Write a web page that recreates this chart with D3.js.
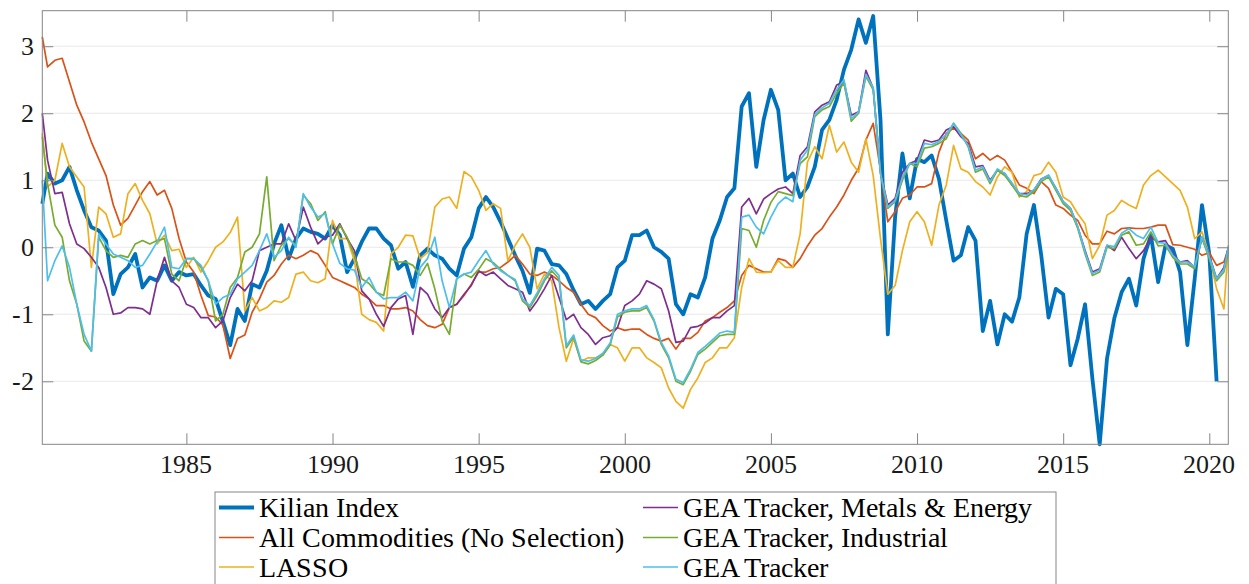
<!DOCTYPE html>
<html>
<head>
<meta charset="utf-8">
<script src="https://cdn.jsdelivr.net/npm/d3@7"></script>
<style>
  @font-face {
    font-family: ChartSerif;
    src: local("Liberation Serif"), local("LiberationSerif-Regular"), local("LiberationSerif"), local("Times New Roman"), local("DejaVu Serif");
  }
</style>
</head>
<body style="margin:0">
<script>
// quarterly readings, first value = 1980Q1, last value sits on the right edge
const startYear = 1980;
const xMin = 1980.07, xMax = 2020.65;
const yMin = -2.94, yMax = 3.53;

const kilian = [
  0.65, 1.1, 0.95, 1.0, 1.2, 0.85, 0.55, 0.3, 0.25, 0.1, -0.7, -0.4,
  -0.3, -0.1, -0.6, -0.45, -0.5, -0.27, -0.5, -0.37, -0.42, -0.4, -0.57, -0.72,
  -0.77, -1.11, -1.46, -0.92, -1.1, -0.55, -0.6, -0.35, 0.05,
  0.33, -0.17, 0.13, 0.28, 0.23, 0.2, 0.13, 0.33, 0.18, -0.37, -0.17,
  0.08, 0.28, 0.28, 0.13, 0.03, -0.32, -0.22, -0.59, -0.12, -0.02, -0.12, -0.17,
  -0.32, -0.42, -0.02, 0.15, 0.58, 0.75, 0.6, 0.38, 0.13, -0.12,
  -0.35, -0.68, -0.02, -0.05, -0.25, -0.27, -0.4, -0.64, -0.85, -0.8,
  -0.92, -0.8, -0.7, -0.3, -0.2, 0.18, 0.18, 0.25, 0.0, -0.07, -0.17, -0.85,
  -1.0, -0.7, -0.75, -0.45, 0.13, 0.4, 0.75, 0.88, 2.1, 2.3, 1.2,
  1.9, 2.35, 2.05, 1.0, 1.1, 0.75, 0.9, 1.2, 1.75, 1.9, 2.2, 2.65, 2.95,
  3.4, 3.05, 3.45, 1.9, -1.3, 0.45, 1.4, 0.73, 1.32, 1.27, 1.37, 1.02,
  0.4, -0.2, -0.12, 0.3, 0.1, -1.25, -0.8,
  -1.45, -1.0, -1.11, -0.75, 0.2, 0.63, -0.12, -1.05, -0.62,
  -0.7, -1.76, -1.36, -0.85, -1.96, -2.94, -1.66, -1.06, -0.67, -0.47, -0.87, -0.17,
  0.18, -0.52, 0.03, -0.02, -0.37, -1.46, -0.47, 0.63, -0.1, -2.0
];

const allCommodities = [
  3.14, 2.69, 2.79, 2.82, 2.47, 2.12, 1.87, 1.57, 1.32, 1.07, 0.63, 0.33,
  0.43, 0.63, 0.83, 0.98, 0.78, 0.85, 0.58, 0.13, -0.22, -0.37, -0.72, -1.02,
  -1.04, -1.16, -1.66, -1.36, -1.31, -0.97, -0.77, -0.52, -0.42,
  -0.25, -0.12, -0.17, -0.12, -0.05, -0.1, -0.27, -0.45, -0.5, -0.55, -0.6,
  -0.7, -0.77, -0.87, -0.87, -0.92, -0.92, -0.9, -0.95, -1.08, -1.17, -1.2, -1.15,
  -0.9, -0.85, -0.72, -0.55, -0.37, -0.37, -0.32, -0.3, -0.22, -0.12,
  -0.25, -0.4, -0.42, -0.37, -0.42, -0.5, -0.6, -0.67, -0.85, -1.0,
  -1.05, -1.17, -1.25, -1.2, -1.24, -1.22, -1.22, -1.3, -1.36, -1.4, -1.36, -1.52,
  -1.36, -1.36, -1.27, -1.1, -1.05, -0.97, -0.9, -0.8, -0.42, -0.27, -0.32,
  -0.37, -0.37, -0.17, -0.2, -0.3, -0.17, 0.02, 0.18, 0.28, 0.45, 0.6, 0.78, 1.0,
  1.18, 1.6, 1.85, 1.15, 0.38, 0.53, 0.73, 0.78, 0.9, 0.9, 0.95, 1.42,
  1.7, 1.78, 1.7, 1.6, 1.32, 1.4, 1.3,
  1.37, 1.3, 1.12, 0.93, 0.88, 0.8, 0.98, 0.88, 0.63,
  0.58, 0.48, 0.4, 0.18, 0.05, 0.05, 0.24, 0.2, 0.28, 0.29, 0.28, 0.28,
  0.3, 0.33, 0.33, 0.04, 0.03, 0.0, -0.03, -0.12, -0.08, -0.27, -0.22, -0.02
];

const lasso = [
  1.7, 0.9, 1.0, 1.55, 1.2, 1.05, 0.9, -0.3, 0.6, 0.5, 0.15, 0.2,
  0.8, 0.95, 0.7, 0.5, 0.05, 0.18, -0.05, -0.03, -0.3, -0.15, -0.37, -0.2,
  0.0, 0.08, 0.22, 0.45, -0.95, -0.75, -0.95, -0.9, -0.8,
  -0.82, -0.75, -0.4, -0.37, -0.5, -0.53, -0.47, 0.4, 0.13, 0.13, -0.2,
  -1.0, -1.08, -1.12, -1.25, -0.1, 0.0, 0.18, 0.17, -0.17, -0.08, 0.6, 0.72,
  0.75, 0.58, 1.13, 1.05, 0.85, 0.55, 0.65, 0.58, -0.2, 0.03,
  0.2, 0.0, -0.62, -0.4, -0.5, -1.2, -1.7, -1.36, -1.7, -1.65,
  -1.65, -1.6, -1.45, -1.5, -1.7, -1.5, -1.5, -1.65, -1.72, -1.8, -2.1, -2.3,
  -2.4, -2.12, -1.95, -1.72, -1.65, -1.5, -1.5, -1.35, -0.6, -0.17, -0.37,
  -0.38, -0.37, -0.2, -0.3, -0.3, 0.2, 1.27, 1.5, 1.32, 1.82, 1.42, 1.57, 1.27,
  1.12, 1.62, 1.07, 0.13, -0.7, -0.57, -0.05, 0.38, 0.53, 0.38, 0.03, 0.63,
  0.93, 1.52, 1.17, 1.12, 0.98, 0.9, 0.78,
  1.05, 1.2, 1.12, 0.75, 0.83, 1.07, 1.1, 1.27, 1.12,
  0.75, 0.68, 0.5, 0.35, -0.17, 0.03, 0.48, 0.55, 0.7, 0.63, 0.58, 0.93,
  1.07, 1.15, 1.05, 0.95, 0.85, 0.6, 0.13, 0.23, -0.12, -0.62, -0.92, 0.03
];

const metalsEnergy = [
  2.0, 1.3, 0.8, 0.82, 0.35, 0.05, -0.02, -0.15, -0.3, -0.6, -1.0, -0.98,
  -0.9, -0.9, -0.92, -1.0, -0.5, -0.15, -0.5, -0.6, -0.85, -0.9, -1.05, -1.05,
  -1.2, -1.1, -0.75, -0.55, -0.65, -0.5, -0.05, 0.0, 0.05,
  0.05, 0.35, 0.1, 0.6, 0.3, 0.05, 0.15, 0.18, 0.35, 0.13, -0.05,
  -0.65, -0.77, -1.0, -1.18, -0.9, -0.77, -0.72, -1.3, -0.6, -0.7, -0.92, -1.05,
  -0.9, -0.85, -0.7, -0.57, -0.35, -0.42, -0.37, -0.47, -0.57, -0.62,
  -0.67, -0.95, -0.8, -0.62, -0.42, -0.75, -1.08, -1.0, -1.2, -1.3,
  -1.45, -1.35, -1.32, -1.2, -0.87, -0.8, -0.7, -0.5, -0.55, -0.62, -0.95, -1.42,
  -1.4, -1.2, -1.18, -1.13, -1.05, -1.05, -0.95, -0.87, 0.6, 0.73, 0.5,
  0.72, 0.8, 0.87, 0.9, 0.8, 1.37, 1.5, 2.02, 2.12, 2.17, 2.42, 2.47, 1.97,
  2.02, 2.64, 2.37, 1.12, 0.63, 0.73, 1.12, 1.25, 1.3, 1.6, 1.57, 1.6,
  1.75, 1.8, 1.65, 1.55, 1.2, 1.22, 1.0,
  1.15, 1.1, 0.93, 0.8, 0.8, 0.85, 1.02, 1.07, 0.88,
  0.68, 0.58, 0.3, -0.05, -0.37, -0.32, 0.03, -0.05, 0.15, -0.02, -0.17, -0.05,
  0.15, 0.08, 0.1, -0.1, -0.22, -0.2, -0.3, 0.15, -0.12, -0.47, -0.3, 0.0
];

const industrial = [
  1.65, 0.95, 0.33, 0.15, -0.5, -0.85, -1.4, -1.55, 0.15, -0.05, -0.15, -0.12,
  -0.15, 0.05, 0.1, 0.05, 0.1, 0.13, -0.4, -0.5, -0.17, -0.17, -0.3, -0.5,
  -1.1, -1.0, -0.6, -0.45, -0.07, 0.0, 0.2, 1.05, -0.2,
  0.03, 0.13, 0.03, 0.78, 0.65, 0.4, 0.53, 0.05, 0.33, 0.15, -0.12,
  -0.47, -0.54, -0.67, -0.72, -0.17, -0.22, -0.22, -0.27, -0.42, -0.24, -0.62, -1.1,
  -1.3, -0.47, -0.4, -0.45, -0.33, -0.17, -0.23, -0.33, -0.42, -0.5,
  -0.8, -0.9, -0.72, -0.5, -0.35, -0.47, -1.5, -1.34, -1.71, -1.74,
  -1.69, -1.61, -1.46, -1.04, -0.97, -0.95, -0.95, -0.9, -1.1, -1.45, -1.65, -2.0,
  -2.05, -1.85, -1.6, -1.52, -1.42, -1.32, -1.3, -1.3, 0.28, 0.25, 0.0,
  0.4, 0.67, 0.83, 0.8, 0.77, 1.25, 1.35, 1.95, 2.05, 2.1, 2.3, 2.45, 1.88,
  2.0, 2.55, 2.35, 1.1, 0.58, 0.68, 1.0, 1.25, 1.2, 1.48, 1.5, 1.55,
  1.62, 1.85, 1.7, 1.5, 1.12, 1.17, 0.95,
  1.15, 1.07, 0.93, 0.77, 0.75, 0.83, 0.98, 1.05, 0.85,
  0.65, 0.55, 0.28, -0.1, -0.42, -0.37, 0.0, -0.02, 0.18, 0.23, 0.03, 0.05,
  0.23, 0.02, 0.03, -0.15, -0.25, -0.25, -0.32, 0.13, -0.17, -0.5, -0.37, -0.07
];

const geaTracker = [
  1.0, -0.5, -0.2, 0.02, -0.3, -0.85, -1.3, -1.55, 0.2, 0.05, -0.1, -0.15,
  -0.2, -0.3, -0.27, -0.1, 0.08, 0.3, -0.3, -0.32, -0.17, -0.17, -0.27, -0.5,
  -0.85, -0.75, -0.7, -0.47, -0.37, -0.27, -0.05, 0.2, -0.15,
  -0.05, 0.15, 0.0, 0.8, 0.6, 0.45, 0.5, 0.05, -0.24, -0.32, -0.34,
  -0.6, -0.45, -0.67, -0.77, -0.75, -0.75, -0.67, -0.8, -0.3, -0.17, 0.15, -0.5,
  -0.9, -0.47, -0.4, -0.37, -0.2, -0.05, -0.25, -0.35, -0.42, -0.48,
  -0.77, -0.87, -0.68, -0.47, -0.3, -0.42, -1.47, -1.31, -1.68, -1.7,
  -1.66, -1.58, -1.43, -1.0, -0.95, -0.92, -0.92, -0.87, -1.08, -1.42, -1.62, -1.97,
  -2.02, -1.82, -1.57, -1.48, -1.38, -1.28, -1.25, -1.27, 0.45, 0.48, 0.3,
  0.2, 0.45, 0.65, 0.75, 0.68, 1.3, 1.45, 1.98, 2.08, 2.15, 2.35, 2.5, 1.92,
  2.02, 2.58, 2.38, 1.1, 0.6, 0.7, 1.05, 1.25, 1.25, 1.55, 1.53, 1.58,
  1.68, 1.85, 1.68, 1.52, 1.15, 1.2, 0.98,
  1.17, 1.1, 0.96, 0.8, 0.78, 0.86, 1.01, 1.08, 0.88,
  0.68, 0.58, 0.31, -0.07, -0.39, -0.34, 0.03, 0.01, 0.21, 0.28, 0.18, 0.13,
  0.3, 0.07, 0.06, -0.12, -0.22, -0.22, -0.29, 0.16, -0.14, -0.47, -0.33, 0.0
];

const xTicks = [1985, 1990, 1995, 2000, 2005, 2010, 2015, 2020];
const yTicks = [-2, -1, 0, 1, 2, 3];

// plotting order (MATLAB order), legend filled column by column
const series = [
  { name: "Kilian Index", values: kilian, color: "#0072BD", width: 3.8 },
  { name: "All Commodities (No Selection)", values: allCommodities, color: "#D95319", width: 1.7 },
  { name: "LASSO", values: lasso, color: "#EDB120", width: 1.7 },
  { name: "GEA Tracker, Metals & Energy", values: metalsEnergy, color: "#7E2F8E", width: 1.7 },
  { name: "GEA Tracker, Industrial", values: industrial, color: "#77AC30", width: 1.7 },
  { name: "GEA Tracker", values: geaTracker, color: "#4DBEEE", width: 1.7 }
];

const width = 1249, height = 584;
const box = { left: 42.3, right: 1228.3, top: 10.7, bottom: 444.3 };
const axisColor = "#858585";
const serifFont = "ChartSerif";

const x = d3.scaleLinear().domain([xMin, xMax]).range([box.left, box.right]);
const y = d3.scaleLinear().domain([yMin, yMax]).range([box.bottom, box.top]);

const svg = d3.select("body").append("svg")
  .attr("width", width)
  .attr("height", height);

// horizontal grid
svg.append("g")
  .selectAll("line")
  .data(yTicks)
  .join("line")
  .attr("x1", box.left)
  .attr("x2", box.right)
  .attr("y1", d => y(d))
  .attr("y2", d => y(d))
  .attr("stroke", "#e9e9e9")
  .attr("stroke-width", 1);

const dateAt = i => Math.max(xMin, Math.min(startYear + i / 4, xMax));

const line = d3.line()
  .x((d, i) => x(dateAt(i)))
  .y(d => Math.max(box.top, Math.min(box.bottom, y(d))));

svg.append("g")
  .selectAll("path")
  .data(series)
  .join("path")
  .attr("fill", "none")
  .attr("stroke", d => d.color)
  .attr("stroke-width", d => d.width)
  .attr("stroke-linejoin", "round")
  .attr("d", d => line(d.values));

// tick marks pointing inwards on all four sides (labels drawn separately)
const tickLen = 11;
const styleAxis = g => {
  g.select(".domain").remove();
  g.selectAll(".tick line").attr("stroke", axisColor);
  g.selectAll(".tick text").remove();
};
svg.append("g").attr("transform", `translate(0,${box.bottom})`)
  .call(d3.axisBottom(x).tickValues(xTicks).tickSize(-tickLen)).call(styleAxis);
svg.append("g").attr("transform", `translate(0,${box.top})`)
  .call(d3.axisTop(x).tickValues(xTicks).tickSize(-tickLen)).call(styleAxis);
svg.append("g").attr("transform", `translate(${box.left},0)`)
  .call(d3.axisLeft(y).tickValues(yTicks).tickSize(-tickLen)).call(styleAxis);
svg.append("g").attr("transform", `translate(${box.right},0)`)
  .call(d3.axisRight(y).tickValues(yTicks).tickSize(-tickLen)).call(styleAxis);

svg.append("rect")
  .attr("x", box.left)
  .attr("y", box.top)
  .attr("width", box.right - box.left)
  .attr("height", box.bottom - box.top)
  .attr("fill", "none")
  .attr("stroke", axisColor)
  .attr("stroke-width", 1);

// tick labels
svg.selectAll("text.xlabel")
  .data(xTicks)
  .join("text")
  .attr("class", "xlabel")
  .attr("x", d => x(d))
  .attr("y", box.bottom + 29)
  .attr("text-anchor", "middle")
  .attr("fill", "#1a1a1a")
  .attr("font-size", 26)
  .attr("font-family", serifFont)
  .style("font-family", serifFont)
  .text(d => String(d));

svg.selectAll("text.ylabel")
  .data(yTicks)
  .join("text")
  .attr("class", "ylabel")
  .attr("x", box.left - 8)
  .attr("y", d => y(d) + 8.5)
  .attr("text-anchor", "end")
  .attr("fill", "#1a1a1a")
  .attr("font-size", 26)
  .attr("font-family", serifFont)
  .style("font-family", serifFont)
  .text(d => String(d));

// legend, two columns, three rows
svg.append("rect")
  .attr("x", 215)
  .attr("y", 492)
  .attr("width", 841)
  .attr("height", 100)
  .attr("fill", "#fff")
  .attr("stroke", axisColor);

const colX = [219, 643];
const rowY = [507.5, 537.5, 567];
const legX = (d, i) => colX[Math.floor(i / 3)];
const legY = (d, i) => rowY[i % 3];

svg.selectAll("line.key")
  .data(series)
  .join("line")
  .attr("class", "key")
  .attr("x1", legX)
  .attr("x2", (d, i) => legX(d, i) + 35)
  .attr("y1", legY)
  .attr("y2", legY)
  .attr("stroke", d => d.color)
  .attr("stroke-width", d => d.width);

svg.selectAll("text.legend")
  .data(series)
  .join("text")
  .attr("class", "legend")
  .attr("x", (d, i) => legX(d, i) + 40)
  .attr("y", (d, i) => legY(d, i) + 9.5)
  .attr("fill", "#000")
  .attr("font-size", 28)
  .attr("font-family", serifFont)
  .style("font-family", serifFont)
  .text(d => d.name);
</script>
</body>
</html>
